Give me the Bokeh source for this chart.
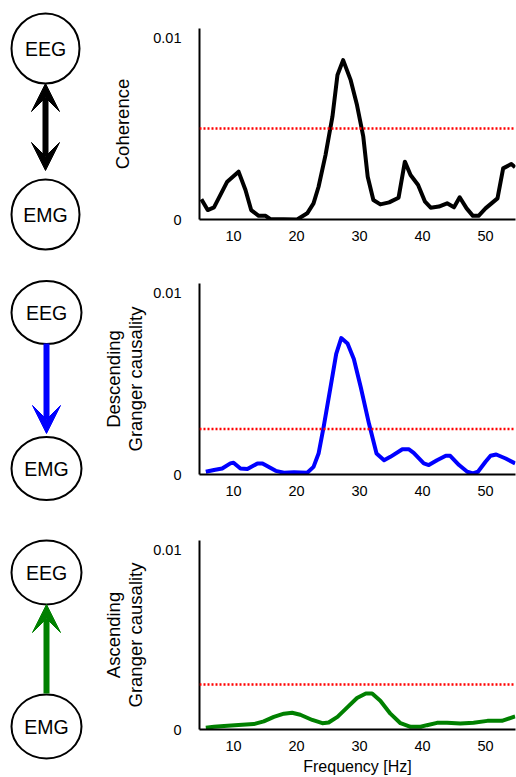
from bokeh.plotting import figure
from bokeh.layouts import column, row
from bokeh.models import Range1d, FixedTicker, Span, Arrow, VeeHead
from bokeh.core.properties import value
from bokeh.embed import file_html
from bokeh.resources import INLINE

# ---------------- data ----------------
freq_coh = [4.9, 5.9, 6.9, 9.0, 10.8, 11.9, 12.8, 14.0, 15.1, 15.8, 20.1, 21.7, 22.7, 23.5,
            24.6, 25.7, 26.5, 27.4, 28.6, 29.6, 30.6, 31.3, 32.2, 33.3, 34.7, 36.2, 37.2,
            38.1, 39.3, 40.4, 41.3, 42.6, 43.9, 45.0, 45.9, 47.0, 48.0, 48.9, 50.0, 51.9,
            52.8, 54.1, 54.7]
coherence = [0.00111, 0.00052, 0.00067, 0.00208, 0.00263, 0.00162, 0.00052, 0.0002, 0.0002,
             0.00003, 0.0, 0.00034, 0.00089, 0.0018, 0.00354, 0.00565, 0.00794, 0.00876,
             0.00766, 0.00629, 0.00455, 0.00235, 0.00107, 0.00083, 0.00094, 0.0012, 0.00318,
             0.00245, 0.0019, 0.00098, 0.00065, 0.00071, 0.00089, 0.00067, 0.00122, 0.00061,
             0.0002, 0.0002, 0.00061, 0.00116, 0.00281, 0.00305, 0.00287]

freq_desc = [5.6, 6.9, 8.2, 9.5, 10.0, 11.1, 12.2, 13.8, 14.6, 16.7, 18.0, 19.6, 21.7, 22.7,
             23.5, 24.3, 25.4, 26.3, 27.1, 28.1, 29.1, 30.2, 31.5, 32.7, 33.9, 34.9, 36.8,
             37.8, 38.6, 40.2, 41.0, 42.3, 43.7, 44.4, 45.8, 47.1, 48.0, 48.8, 50.0, 50.8,
             51.7, 53.2, 54.7]
descending = [0.00015, 0.00025, 0.00033, 0.00061, 0.00065, 0.00033, 0.0003, 0.00061, 0.00061,
              0.0002, 0.0001, 0.00012, 0.0001, 0.00042, 0.00115, 0.0026, 0.0048, 0.00663,
              0.0075, 0.0072, 0.00635, 0.0048, 0.0028, 0.00115, 0.00078, 0.00097, 0.00139,
              0.00139, 0.00119, 0.00061, 0.00052, 0.00078, 0.00103, 0.00103, 0.00052, 0.00015,
              0.00006, 0.00015, 0.0007, 0.00103, 0.0011, 0.00088, 0.00061]

freq_asc = [5.6, 6.9, 8.5, 10.8, 13.2, 14.8, 16.4, 18.0, 19.3, 20.6, 22.5, 24.1, 25.1, 26.5,
            28.1, 29.6, 31.0, 32.0, 33.3, 34.9, 36.5, 38.1, 39.7, 40.7, 42.3, 43.9, 46.0,
            48.1, 50.3, 52.6, 54.7]
ascending = [0.0001, 0.00015, 0.0002, 0.00025, 0.0003, 0.00045, 0.0007, 0.00088, 0.00093,
             0.00082, 0.00053, 0.00035, 0.00039, 0.0007, 0.00124, 0.00175, 0.002, 0.002,
             0.0016, 0.00088, 0.00035, 0.00015, 0.00015, 0.00024, 0.00037, 0.00038, 0.00033,
             0.00038, 0.00048, 0.00048, 0.00073]

thresholds = [0.005, 0.0025, 0.0025]
y_titles = ["Coherence", "Descending\nGranger causality", "Ascending\nGranger causality"]
x_title = "Frequency [Hz]"
x_ticks = [10, 20, 30, 40, 50]
y_ticks = [0, 0.01]
y_tick_labels = {0: "0", 0.01: "0.01"}
node_labels = ["EEG", "EMG"]
colors = ["black", "#0000ff", "#008000"]

# ---------------- layout constants ----------------
FONT = "Liberation Sans"
DIAG_W = 85
CHART_W = 431
ROW_H = [263, 257, 257]
BORDER_TOP = [28, 20, 20]
TITLE_STANDOFF = [17, 4, 4]
FRAME_H = 191

def make_chart(fx, fy, color, thr, title, height, btop, standoff, last):
    p = figure(width=CHART_W, height=height,
               x_range=Range1d(4.6, 54.76), y_range=Range1d(0, 0.0105),
               output_backend="svg", toolbar_location=None,
               min_border_left=114, min_border_right=1, min_border_top=btop,
               min_border_bottom=height - btop - FRAME_H)
    p.frame_align = False
    p.grid.visible = False
    p.outline_line_color = None
    p.background_fill_color = None
    p.border_fill_color = None
    p.line(fx, fy, line_color=color, line_width=4, line_join="round")
    p.add_layout(Span(location=thr, dimension="width", line_color="red",
                      line_width=2.5, line_dash="2 2"))
    for ax in (p.xaxis[0], p.yaxis[0]):
        ax.axis_line_width = 2
        ax.axis_line_color = "black"
        ax.major_tick_line_color = None
        ax.minor_tick_line_color = None
        ax.major_label_text_font = FONT
        ax.major_label_text_font_size = "14.5px"
        ax.major_label_text_color = "black"
        ax.axis_label_text_font = FONT
        ax.axis_label_text_font_style = "normal"
        ax.axis_label_text_color = "black"
    p.xaxis.ticker = FixedTicker(ticks=x_ticks)
    p.xaxis.major_label_standoff = 5
    p.yaxis.ticker = FixedTicker(ticks=y_ticks)
    p.yaxis.major_label_overrides = y_tick_labels
    p.yaxis.major_label_standoff = 12
    p.yaxis.axis_label = title
    p.yaxis.axis_label_text_font_size = "18.5px"
    p.yaxis.axis_label_text_line_height = 1.05
    p.yaxis.axis_label_standoff = standoff
    if last:
        p.xaxis.axis_label = x_title
        p.xaxis.axis_label_text_font_size = "16px"
        p.xaxis.axis_label_standoff = 4
    return p

def make_diag(height, cx, eeg_y, emg_y, ew, eh, a_start, a_end, double, color):
    d = figure(width=DIAG_W, height=height, x_range=Range1d(0, DIAG_W),
               y_range=Range1d(height, 0), output_backend="svg", toolbar_location=None,
               x_axis_location=None, y_axis_location=None, min_border=0)
    d.frame_align = False
    d.grid.visible = False
    d.outline_line_color = None
    d.border_fill_color = None
    d.background_fill_color = None
    head = dict(size=28, fill_color=color, line_color=color, line_width=1)
    d.add_layout(Arrow(x_start=cx, y_start=a_start, x_end=cx, y_end=a_end,
                       line_color=color, line_width=6,
                       end=VeeHead(**head),
                       start=VeeHead(**head) if double else None))
    d.ellipse(x=[cx, cx], y=[eeg_y, emg_y], width=ew, height=eh,
              fill_color="white", line_color="black", line_width=2)
    d.text(x=[cx, cx], y=[eeg_y, emg_y], text=node_labels, text_align="center",
           text_baseline="middle", text_font=value(FONT), text_font_size="19.5px",
           text_color="black")
    return d

series = [(freq_coh, coherence), (freq_desc, descending), (freq_asc, ascending)]
# diagram geometry per row (row-local pixel coordinates)
diag_geo = [
    dict(cx=45, eeg_y=48, emg_y=214, ew=68, eh=70, a_start=170, a_end=83, double=True),
    dict(cx=46, eeg_y=49, emg_y=205, ew=70, eh=63, a_start=80, a_end=170, double=False),
    dict(cx=46, eeg_y=52, emg_y=206, ew=70, eh=64, a_start=173, a_end=84, double=False),
]

rows = []
for i in range(3):
    g = diag_geo[i]
    d = make_diag(ROW_H[i], g["cx"], g["eeg_y"], g["emg_y"], g["ew"], g["eh"],
                  g["a_start"], g["a_end"], g["double"], colors[i])
    c = make_chart(series[i][0], series[i][1], colors[i], thresholds[i], y_titles[i],
                   ROW_H[i], BORDER_TOP[i], TITLE_STANDOFF[i], i == 2)
    rows.append(row(d, c))

layout = column(*rows)
open("out.html", "w").write(file_html(layout, INLINE))
